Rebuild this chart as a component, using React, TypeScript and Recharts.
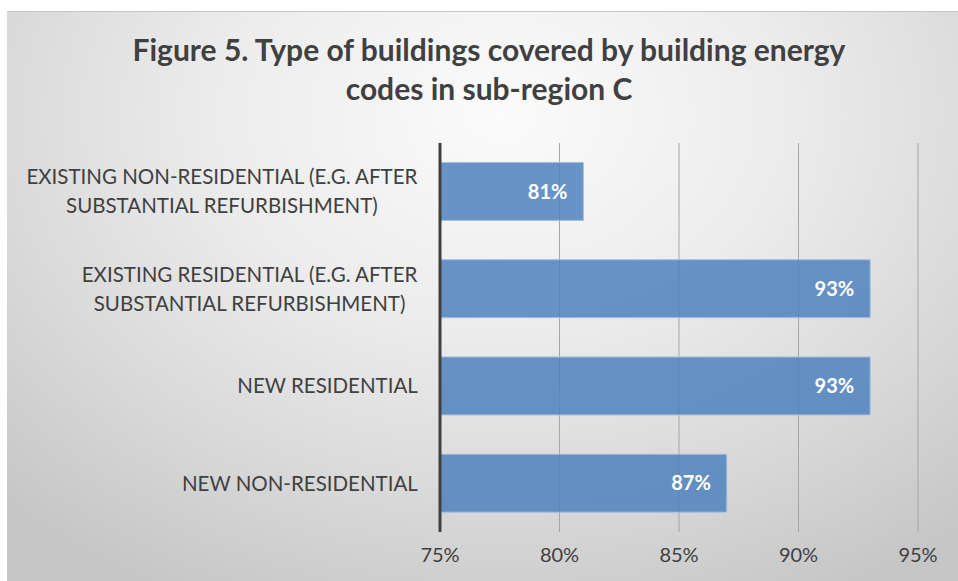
import React from "react";
import { BarChart, Bar, XAxis, YAxis, CartesianGrid, LabelList } from "recharts";

// categories top to bottom, "\n" marks the line break used in the picture
const categories = [
  "EXISTING NON-RESIDENTIAL (E.G. AFTER\nSUBSTANTIAL REFURBISHMENT)",
  "EXISTING RESIDENTIAL (E.G. AFTER\nSUBSTANTIAL REFURBISHMENT)",
  "NEW RESIDENTIAL",
  "NEW NON-RESIDENTIAL",
];
const shares = [81, 93, 93, 87];
const xTicks = [75, 80, 85, 90, 95];
const titleLines = [
  "Figure 5. Type of buildings covered by building energy",
  "codes in sub-region C",
];

const FONT = "Lato, 'Open Sans', sans-serif";
const TEXT = "#404040";

const rows = categories.map((name, i) => ({ name, value: shares[i] }));

let ctx: CanvasRenderingContext2D | null = null;
function measure(text: string, font: string) {
  if (!ctx) ctx = document.createElement("canvas").getContext("2d");
  if (!ctx) return text.length * 10;
  ctx.font = font;
  return ctx.measureText(text).width;
}

const CategoryTick = (props: any) => {
  const { x, y, payload } = props;
  const lines: string[] = String(payload.value).split("\n");
  const fontSize = 20.5;
  const widest = Math.max(...lines.map((l) => measure(l, `${fontSize}px Lato`)));
  const cx = x - widest / 2;
  const lineH = 29;
  const start = y - ((lines.length - 1) * lineH) / 2;
  return (
    <g>
      {lines.map((l, i) => (
        <text
          key={i}
          x={cx}
          y={start + i * lineH}
          dy="0.35em"
          textAnchor="middle"
          fill={TEXT}
          fontSize={fontSize}
          fontFamily={FONT}
        >
          {l}
        </text>
      ))}
    </g>
  );
};

export default function App() {
  return (
    <div
      style={{
        position: "fixed",
        left: 0,
        top: 0,
        width: 958,
        height: 581,
        background: "#fff",
        overflow: "hidden",
      }}
    >
      <div
        style={{
          position: "absolute",
          left: 7,
          top: 11,
          right: 0,
          bottom: 0,
          borderTop: "1px solid #c4c4c4",
          background:
            "radial-gradient(ellipse 75% 95% at 52% 18%, #fbfbfb 0%, #ececec 40%, #dadada 70%, #c6c6c6 100%)",
        }}
      />
      <div
        style={{
          position: "absolute",
          left: 0,
          top: 30,
          width: 978,
          textAlign: "center",
          fontFamily: FONT,
          fontWeight: 700,
          fontSize: 30,
          lineHeight: "39px",
          color: TEXT,
        }}
      >
        {titleLines.map((t) => (
          <div key={t}>{t}</div>
        ))}
      </div>
      <BarChart
        width={958}
        height={581}
        layout="vertical"
        data={rows}
        margin={{ top: 143, right: 40, bottom: 0, left: 0 }}
        barCategoryGap="20%"
        style={{ position: "absolute", left: 0, top: 0 }}
      >
        <CartesianGrid horizontal={false} stroke="#a6a6a6" />
        <XAxis
          type="number"
          domain={[75, 95]}
          ticks={xTicks}
          allowDataOverflow
          tickFormatter={(v: number) => `${v}%`}
          axisLine={false}
          tickLine={false}
          tickSize={0}
          tickMargin={16}
          height={49}
          tick={{ fill: TEXT, fontSize: 20, fontFamily: FONT }}
        />
        <YAxis
          type="category"
          dataKey="name"
          width={440}
          interval={0}
          axisLine={{ stroke: TEXT, strokeWidth: 3 }}
          tickLine={false}
          tickSize={0}
          tickMargin={22}
          tick={<CategoryTick />}
        />
        <Bar
          dataKey="value"
          fill="#4f81bd"
          fillOpacity={0.85}
          stroke="#a9c0de"
          strokeWidth={1}
          isAnimationActive={false}
        >
          <LabelList
            dataKey="value"
            position="insideRight"
            offset={16}
            formatter={(v: any) => `${v}%`}
            fill="#fff"
            fontSize={20}
            fontWeight={700}
            fontFamily={FONT}
          />
        </Bar>
      </BarChart>
    </div>
  );
}
